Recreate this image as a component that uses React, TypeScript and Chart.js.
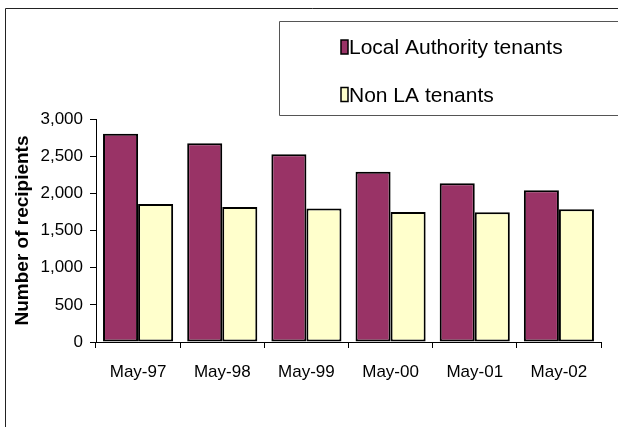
import React, { useEffect, useRef } from 'react';
import { Chart, registerables } from 'chart.js';

Chart.register(...registerables);

const categories = ['May-97', 'May-98', 'May-99', 'May-00', 'May-01', 'May-02'];
const laTenants = [2800, 2675, 2525, 2290, 2135, 2040];
const nonLaTenants = [1855, 1815, 1795, 1750, 1745, 1785];
const seriesNames = ['Local Authority tenants', 'Non LA tenants'];
const seriesColors = ['#993366', '#FFFFCC'];
const yMin = 0;
const yMax = 3000;
const yStep = 500;
const yTitle = 'Number of recipients';

const FONT = '"Liberation Sans", Arial, sans-serif';

const framePlugin = {
  id: 'frameAndLegend',
  afterDraw(chart: any) {
    const ctx = chart.ctx as CanvasRenderingContext2D;
    ctx.save();
    // outer chart frame
    ctx.strokeStyle = '#222';
    ctx.lineWidth = 1;
    ctx.beginPath();
    ctx.moveTo(5.5, 440);
    ctx.lineTo(5.5, 8.5);
    ctx.lineTo(640, 8.5);
    ctx.stroke();
    // legend frame
    ctx.strokeStyle = '#555';
    ctx.beginPath();
    ctx.moveTo(640, 21.5);
    ctx.lineTo(279.5, 21.5);
    ctx.lineTo(279.5, 115.5);
    ctx.lineTo(640, 115.5);
    ctx.stroke();
    // legend items
    chart.data.datasets.forEach((ds: any, i: number) => {
      const base = 54 + i * 47.5;
      ctx.fillStyle = ds.backgroundColor;
      ctx.fillRect(341, base - 14, 7, 14);
      ctx.strokeStyle = '#000';
      ctx.lineWidth = 1.5;
      ctx.strokeRect(341, base - 14, 7, 14);
      ctx.fillStyle = '#000';
      ctx.font = '21px ' + FONT;
      ctx.textAlign = 'left';
      ctx.textBaseline = 'alphabetic';
      ctx.fillText(ds.label, 349, base);
    });
    ctx.restore();
  },
};

export default function App() {
  const ref = useRef<HTMLCanvasElement | null>(null);

  useEffect(() => {
    if (!ref.current) return;
    const chart = new Chart(ref.current, {
      type: 'bar',
      data: {
        labels: categories,
        datasets: [
          {
            label: seriesNames[0],
            data: laTenants,
            backgroundColor: seriesColors[0],
            borderColor: '#000',
            borderWidth: 2,
            borderSkipped: false,
            categoryPercentage: 0.833,
            barPercentage: 1,
          },
          {
            label: seriesNames[1],
            data: nonLaTenants,
            backgroundColor: seriesColors[1],
            borderColor: '#000',
            borderWidth: 2,
            borderSkipped: false,
            categoryPercentage: 0.833,
            barPercentage: 1,
          },
        ],
      },
      options: {
        responsive: false,
        animation: false,
        layout: { padding: { top: 119, right: 17, left: 0, bottom: 0 } },
        plugins: {
          legend: { display: false },
          tooltip: { enabled: false },
        },
        scales: {
          x: {
            grid: {
              display: true,
              drawOnChartArea: false,
              drawTicks: true,
              tickLength: 6,
              color: '#000',
              offset: true,
            },
            border: { color: '#000', width: 1 },
            ticks: {
              color: '#000',
              font: { size: 17, family: FONT },
              padding: 14,
              maxRotation: 0,
              autoSkip: false,
            },
            afterFit: (s: any) => {
              s.height = 85;
            },
          },
          y: {
            min: yMin,
            max: yMax,
            grid: {
              display: true,
              drawOnChartArea: false,
              drawTicks: true,
              tickLength: 6,
              color: '#000',
            },
            border: { color: '#000', width: 1 },
            ticks: {
              stepSize: yStep,
              color: '#000',
              font: { size: 17, family: FONT },
              padding: 7,
              callback: (v: any) => Number(v).toLocaleString('en-US'),
            },
            title: {
              display: true,
              text: yTitle,
              color: '#000',
              font: { size: 19, weight: 'bold', family: FONT },
              padding: { top: 11, bottom: 0 },
            },
            afterFit: (s: any) => {
              s.width = 96;
            },
          },
        },
      },
      plugins: [framePlugin],
    });
    return () => chart.destroy();
  }, []);

  return (
    <div style={{ position: 'absolute', left: 0, top: 0, width: 618, height: 427, background: '#fff' }}>
      <canvas ref={ref} width={618} height={427} style={{ display: 'block' }} />
    </div>
  );
}
